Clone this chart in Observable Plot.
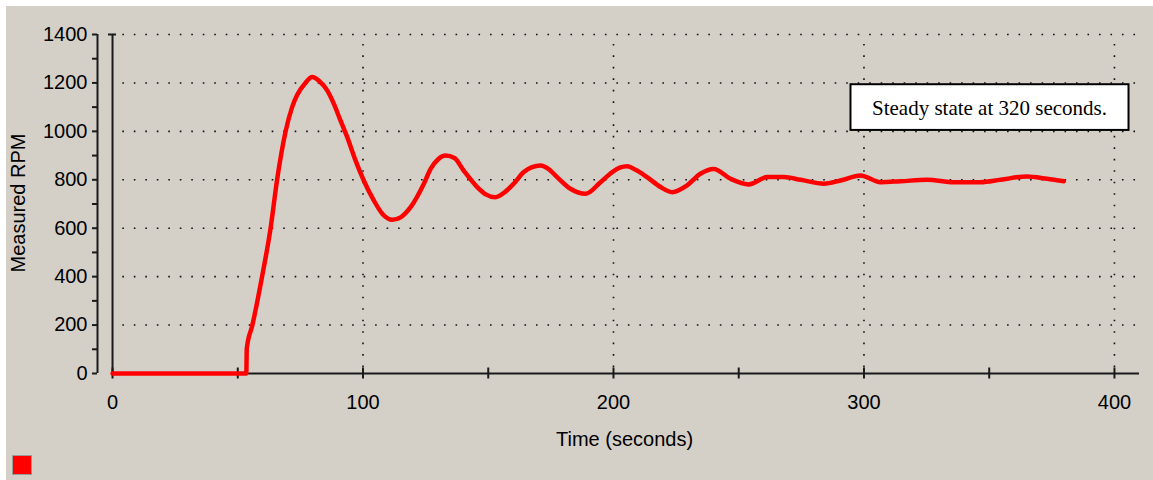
<!DOCTYPE html>
<html>
<head>
<meta charset="utf-8">
<script src="https://cdn.jsdelivr.net/npm/d3@7"></script>
<script src="https://cdn.jsdelivr.net/npm/@observablehq/plot@0.6"></script>
<style>
  html, body { margin: 0; padding: 0; background: #ffffff; }
  #wrap { padding: 6px 0 0 6px; width: 1147px; }
  #chart svg { display: block; }
  #legend { height: 30px; background: #D4D0C8; position: relative; }
  #legend .sw { position: absolute; left: 6px; top: 5px; width: 18px; height: 18px; background: #ff0000; border: 1px solid #9a9a9a; }
</style>
</head>
<body>
<div id="wrap">
  <div id="chart"></div>
  <div id="legend"><span class="sw"></span></div>
</div>
<script>
// ---- data ----
const timeSec = [0, 53.4, 53.6, 55.8, 59.7, 63.1, 65.7, 69.1, 71.7, 73.7, 77, 79.7, 82.5, 85.7, 88.5, 91, 93.7, 97, 100.3, 104.3, 107.7, 111.7, 115, 119, 124.3, 127, 130, 133, 136.5, 140.2, 145.6, 149, 152.9, 156.5, 160.2, 164.2, 167.5, 170.9, 174, 177.5, 182.8, 188.8, 194.8, 199.5, 202.5, 205.5, 209, 213.4, 218.8, 223.4, 229.4, 234.7, 240, 246.7, 254, 261.4, 268, 274.7, 284, 290.6, 298.6, 306.6, 314.6, 325.2, 335.9, 346.5, 354.5, 365.1, 373.1, 379.8];
const rpm = [0, 0, 103, 198, 400, 600, 800, 1000, 1100, 1150, 1200, 1224, 1208, 1169, 1110, 1045, 976, 880, 797, 715, 660, 635, 645, 687, 784, 845, 885, 900, 890, 838, 770, 740, 728, 748, 784, 832, 852, 859, 845, 811, 763, 742, 790, 832, 850, 856, 840, 811, 770, 749, 777, 825, 845, 804, 781, 811, 811, 800, 784, 797, 818, 790, 794, 800, 790, 790, 800, 814, 804, 794];
const yLabelTicks = [0, 200, 400, 600, 800, 1000, 1200, 1400];
const yMinorTicks = [0, 100, 200, 300, 400, 500, 600, 700, 800, 900, 1000, 1100, 1200, 1300, 1400];
const yGridTicks = [200, 400, 600, 800, 1000, 1200, 1400];
const xLabelTicks = [0, 100, 200, 300, 400];
const xMinorTicks = [0, 50, 100, 150, 200, 250, 300, 350, 400];
const xGridTicks = [100, 200, 300, 400];
const xLabel = "Time (seconds)";
const yLabel = "Measured RPM";
const note = "Steady state at 320 seconds.";

const data = timeSec.map((t, i) => ({t, v: rpm[i]}));
const axisColor = "#1a1a1a";
const sans = "'Liberation Sans', Arial, sans-serif";

const chart = Plot.plot({
  width: 1147,
  height: 444,
  marginLeft: 91,
  marginRight: 14,
  marginTop: 28,
  marginBottom: 77,
  x: {domain: [-6, 410]},
  y: {domain: [0, 1400]},
  style: {background: "#D4D0C8", fontFamily: sans, fontSize: "20px", color: "#000", overflow: "visible"},
  marks: [
    Plot.ruleY(yGridTicks, {x1: 0, x2: 410, stroke: "#111", strokeWidth: 1.6, strokeDasharray: "1.6,9.89", strokeDashoffset: 1.19}),
    Plot.ruleX(xGridTicks, {y1: 0, y2: 1400, stroke: "#111", strokeWidth: 1.6, strokeDasharray: "1.6,9.89", strokeDashoffset: 5.69}),
    Plot.ruleX([0], {y1: 0, y2: 1400, stroke: axisColor, strokeWidth: 2}),
    Plot.ruleY([1400], {x1: -1.6, x2: 1.6, stroke: axisColor, strokeWidth: 2}),
    Plot.ruleY([0], {x1: 0, x2: 410, stroke: axisColor, strokeWidth: 2}),
    Plot.ruleX([-6], {y1: 0, y2: 1400, stroke: axisColor, strokeWidth: 2}),
    Plot.axisY({ticks: yMinorTicks, tickSize: 5, text: null, label: null, stroke: axisColor, strokeWidth: 2}),
    Plot.axisY({ticks: yLabelTicks, tickSize: 0, tickPadding: 10, tickFormat: d => String(d), label: null, fontSize: 20, fill: "#000"}),
    Plot.axisX({ticks: xMinorTicks, tickSize: 11, dy: -5.5, text: null, label: null, stroke: axisColor, strokeWidth: 2}),
    Plot.axisX({ticks: xLabelTicks, tickSize: 0, tickPadding: 21, tickFormat: d => String(d), label: null, fontSize: 20, fill: "#000"}),
    Plot.line(data, {x: "t", y: "v", stroke: "#ff0000", strokeWidth: 4.5, curve: "monotone-x"}),
    Plot.text([xLabel], {frameAnchor: "bottom", dx: 6, dy: 66.5, lineAnchor: "middle", textAnchor: "middle", fontSize: 20, fill: "#000"}),
    Plot.text([yLabel], {frameAnchor: "left", dx: -79.4, dy: -1, rotate: -90, lineAnchor: "middle", textAnchor: "middle", fontSize: 20, fill: "#000"}),
    Plot.text([note], {frameAnchor: "top-right", dx: -150, dy: 73.3, lineAnchor: "middle", textAnchor: "middle", fontSize: 21, fontFamily: "'Liberation Serif', 'Times New Roman', serif", fill: "#000"})
  ]
});

document.getElementById("chart").appendChild(chart);

// white framed box behind the annotation text (same local coordinate system as the text)
d3.select(chart).selectAll("text").filter(function () { return this.textContent === note; }).each(function () {
  const b = this.getBBox();
  const r = d3.select(this.parentNode).insert("rect", () => this)
    .attr("x", b.x - 21.5)
    .attr("y", b.y - 11.3)
    .attr("width", b.width + 43)
    .attr("height", b.height + 21.7)
    .attr("fill", "#ffffff")
    .attr("stroke", "#000")
    .attr("stroke-width", 2);
  const tr = this.getAttribute("transform");
  if (tr) r.attr("transform", tr);
});
</script>
</body>
</html>
